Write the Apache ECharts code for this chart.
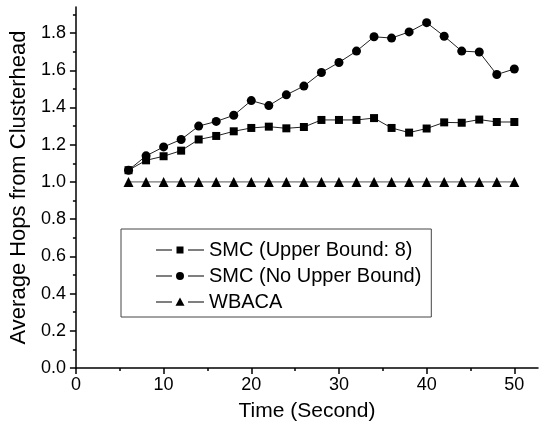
<!DOCTYPE html>
<html>
<head>
<meta charset="utf-8">
<script src="https://cdn.jsdelivr.net/npm/echarts@6/dist/echarts.min.js"></script>
<style>html,body{margin:0;padding:0;background:#fff}#c{width:552px;height:435px}</style>
</head>
<body>
<div id="c"></div>
<script>
const times = [6,8,10,12,14,16,18,20,22,24,26,28,30,32,34,36,38,40,42,44,46,48,50];
const upperBound8 = [1.063,1.116,1.138,1.168,1.228,1.247,1.272,1.29,1.297,1.288,1.295,1.333,1.333,1.333,1.343,1.29,1.265,1.287,1.32,1.318,1.335,1.322,1.322];
const noUpperBound = [1.063,1.14,1.188,1.228,1.3,1.325,1.358,1.437,1.41,1.468,1.515,1.588,1.642,1.703,1.78,1.773,1.806,1.856,1.783,1.703,1.698,1.577,1.607];
const wbaca = [1,1,1,1,1,1,1,1,1,1,1,1,1,1,1,1,1,1,1,1,1,1,1];
const xMajor = [0,10,20,30,40,50];
const xMinor = [5,15,25,35,45];
const yMajor = [0,0.2,0.4,0.6,0.8,1.0,1.2,1.4,1.6,1.8];
const yMinor = [0.1,0.3,0.5,0.7,0.9,1.1,1.3,1.5,1.7,1.9];
const seriesNames = ['SMC (Upper Bound: 8)','SMC (No Upper Bound)','WBACA'];

const FONT = 'Liberation Sans, Arial, Helvetica, sans-serif';
const zip = (xs, ys) => xs.map((x, i) => [x, ys[i]]);
const lineCol = '#222';

// legend icons: dash - marker - dash (with small gaps), in a 48x12 box
const dashes = 'M0,0 M48,12 M0,5.45 H16 V6.55 H0 Z M32,5.45 H48 V6.55 H32 Z ';
const iconSquare = 'path://' + dashes + 'M20.5,2.5 H27.5 V9.5 H20.5 Z';
const iconCircle = 'path://' + dashes + 'M20,6 A4,4 0 1,0 28,6 A4,4 0 1,0 20,6 Z';
const iconTriangle = 'path://' + dashes + 'M24,1.5 L28.5,9.8 L19.5,9.8 Z';

const chart = echarts.init(document.getElementById('c'), null, {renderer: 'canvas'});
chart.setOption({
  animation: false,
  backgroundColor: '#fff',
  textStyle: {fontFamily: FONT},
  grid: {left: 74.5, right: 14, top: 7, bottom: 67, containLabel: false},
  xAxis: [{
    type: 'value', min: 0, max: 52.7, position: 'bottom',
    axisLine: {show: true, lineStyle: {color: '#000', width: 1.5}},
    axisTick: {show: true, customValues: xMajor, length: 6, lineStyle: {color: '#000', width: 1.5}},
    axisLabel: {show: true, customValues: xMajor, color: '#000', fontSize: 18, fontFamily: FONT, margin: 8},
    splitLine: {show: false},
    name: 'Time (Second)', nameLocation: 'middle', nameGap: 33,
    nameTextStyle: {color: '#000', fontSize: 21, fontFamily: FONT}
  }, {
    type: 'value', min: 0, max: 52.7, position: 'bottom', offset: 0,
    axisLine: {show: false},
    axisTick: {show: true, customValues: xMinor, length: 3, lineStyle: {color: '#000', width: 1.5}},
    axisLabel: {show: false},
    splitLine: {show: false}
  }],
  yAxis: [{
    type: 'value', min: 0, max: 1.94, position: 'left',
    axisLine: {show: true, lineStyle: {color: '#000', width: 1.5}},
    axisTick: {show: true, customValues: yMajor, length: 6, lineStyle: {color: '#000', width: 1.5}},
    axisLabel: {show: true, customValues: yMajor, color: '#000', fontSize: 18, fontFamily: FONT, margin: 10,
      formatter: v => Number(v).toFixed(1)},
    splitLine: {show: false},
    name: 'Average Hops from Clusterhead', nameLocation: 'middle', nameGap: 42, nameRotate: 90,
    nameTextStyle: {color: '#000', fontSize: 22, fontFamily: FONT}
  }, {
    type: 'value', min: 0, max: 1.94, position: 'left', offset: 0,
    axisLine: {show: false},
    axisTick: {show: true, customValues: yMinor, length: 3, lineStyle: {color: '#000', width: 1.5}},
    axisLabel: {show: false},
    splitLine: {show: false}
  }],
  legend: {
    orient: 'vertical', left: 121, top: 229,
    padding: [11, 10, 5, 35],
    itemGap: 6, itemWidth: 48, itemHeight: 12,
    borderColor: '#444', borderWidth: 1, backgroundColor: '#fff',
    textStyle: {color: '#000', fontSize: 20, fontFamily: FONT},
    itemStyle: {color: '#000', borderWidth: 0},
    data: [
      {name: seriesNames[0], icon: iconSquare},
      {name: seriesNames[1], icon: iconCircle},
      {name: seriesNames[2], icon: iconTriangle}
    ]
  },
  series: [{
    name: seriesNames[0], type: 'line', data: zip(times, upperBound8),
    symbol: 'rect', symbolSize: 8, showAllSymbol: true,
    lineStyle: {color: lineCol, width: 1}, itemStyle: {color: '#000'}
  }, {
    name: seriesNames[1], type: 'line', data: zip(times, noUpperBound),
    symbol: 'circle', symbolSize: 9, showAllSymbol: true,
    lineStyle: {color: lineCol, width: 1}, itemStyle: {color: '#000'}
  }, {
    name: seriesNames[2], type: 'line', data: zip(times, wbaca),
    symbol: 'triangle', symbolSize: 10, showAllSymbol: true,
    lineStyle: {color: '#555', width: 1}, itemStyle: {color: '#000'}
  }]
});
</script>
</body>
</html>
